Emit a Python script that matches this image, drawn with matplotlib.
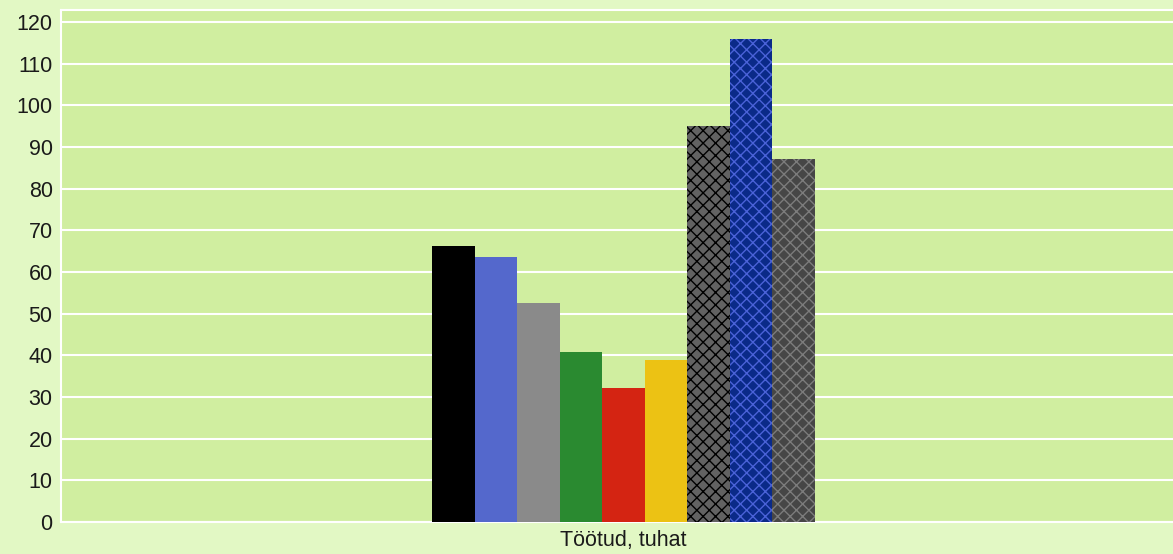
import matplotlib
matplotlib.use("Agg")
import matplotlib.pyplot as plt

DPI = 112
S = 100 / DPI  # keep sizes as if drawn at 100 dpi

plt.rcParams['font.family'] = ['Liberation Sans', 'DejaVu Sans']
plt.rcParams['hatch.linewidth'] = 1.0 * S

category = "Töötud, tuhat"
values = [66.2, 63.6, 52.6, 40.8, 32.2, 38.9, 95.0, 115.9, 87.1]
face_colors = ["#000000", "#5468cc", "#8a8a8a", "#2a8a30", "#d42412",
               "#ecc214", "#626262", "#0a2a88", "#464646"]
hatch_colors = [None, None, None, None, None, None, "#000000", "#4a62d8", "#7c7c7c"]
y_ticks = list(range(0, 121, 10))

fig = plt.figure(figsize=(1173 / DPI, 554 / DPI), dpi=DPI)
fig.patch.set_facecolor("#e2f8c4")
ax = fig.add_axes([61 / 1173, 1 - 522 / 554, 1 - 61 / 1173, (522 - 10) / 554])
ax.set_facecolor("#d0eea0")

n = len(values)
for i, (v, fc, hc) in enumerate(zip(values, face_colors, hatch_colors)):
    pos = i - (n - 1) / 2
    if hc is None:
        ax.bar(pos, v, width=1.0, color=fc, linewidth=0, zorder=3)
    else:
        ax.bar(pos, v, width=1.0, facecolor=fc, edgecolor=hc, hatch="xxx",
               linewidth=0, zorder=3)

ax.set_xlim(-13.24, 12.93)
ax.set_ylim(0, 122.9)
ax.set_yticks(y_ticks)
ax.set_xticks([0])
ax.set_xticklabels([category])
ax.grid(axis="y", color="white", linewidth=1.5 * S, zorder=1)
ax.set_axisbelow(True)
for side in ["left", "bottom", "top"]:
    ax.spines[side].set_color("white")
    ax.spines[side].set_linewidth(1.5 * S)
ax.spines["right"].set_visible(False)
ax.tick_params(axis="both", length=0, labelsize=15.5 * S, colors="#1a1a1a", pad=6 * S)

fig.savefig("out.png", dpi=DPI, facecolor=fig.get_facecolor())
